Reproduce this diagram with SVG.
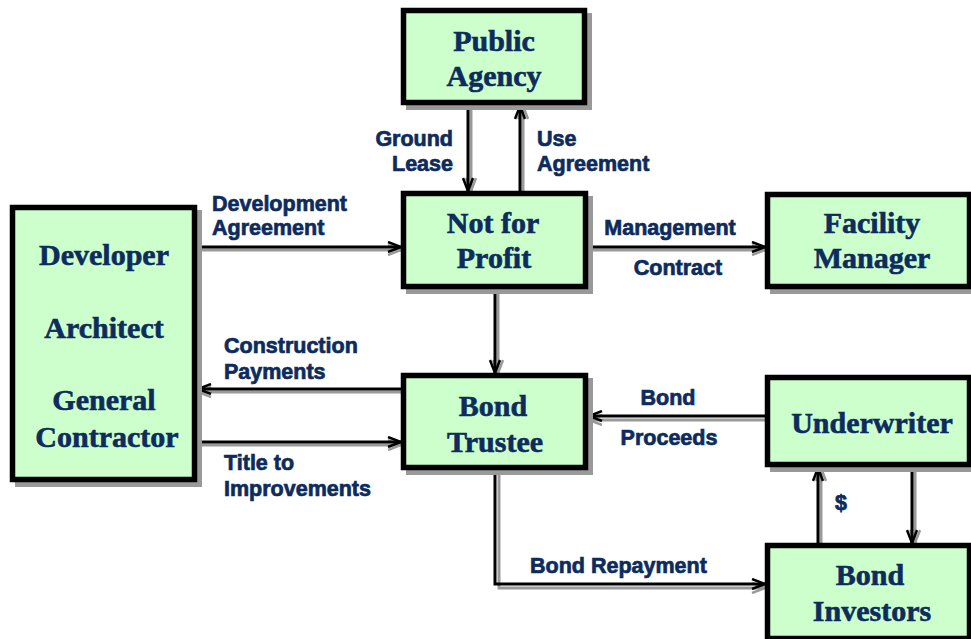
<svg xmlns="http://www.w3.org/2000/svg" width="971" height="639" viewBox="0 0 971 639">
  <style>
    .shadow { fill: #999; stroke: #999; stroke-width: 5; }
    .box { fill: #ccffcc; stroke: #000; stroke-width: 5.5; }
    .title { font-family: "Liberation Serif", "Times New Roman", serif; font-weight: bold; font-size: 30px; fill: #0d2b5c; stroke: #0d2b5c; stroke-width: 0.6; text-anchor: middle; }
    .lbl { font-family: "Liberation Sans", Arial, sans-serif; font-weight: bold; font-size: 21.5px; fill: #0d2b5c; stroke: #0d2b5c; stroke-width: 0.7; }
    .mid { text-anchor: middle; }
    .end { text-anchor: end; }
    .wire { fill: none; stroke: #000; stroke-width: 3; }
    .wire-sh { fill: none; stroke: #9a9a9a; stroke-width: 3; }
    .wire.arrow { marker-end: url(#ah); }
    .wire-sh.arrow { marker-end: url(#ah-sh); }
  </style>
  <defs>
    <marker id="ah" viewBox="0 0 16 12" refX="14" refY="6" markerWidth="16" markerHeight="12" markerUnits="userSpaceOnUse" orient="auto">
      <path d="M1,1 L14,6 L1,11" fill="none" stroke="#000" stroke-width="2.5"/>
    </marker>
    <marker id="ah-sh" viewBox="0 0 16 12" refX="14" refY="6" markerWidth="16" markerHeight="12" markerUnits="userSpaceOnUse" orient="auto">
      <path d="M1,1 L14,6 L1,11" fill="none" stroke="#9a9a9a" stroke-width="2.5"/>
    </marker>
  </defs>
  <rect width="971" height="639" fill="#fff"/>

  <!-- connectors: grey offset shadow under each black line -->
  <g id="connectors">
    <!-- Ground Lease -->
    <line class="wire-sh arrow" x1="471" y1="106" x2="471" y2="191"/>
    <line class="wire arrow" x1="468" y1="106" x2="468" y2="191"/>
    <!-- Use Agreement -->
    <line class="wire-sh arrow" x1="523" y1="191" x2="523" y2="106"/>
    <line class="wire arrow" x1="520" y1="191" x2="520" y2="106"/>
    <!-- Development Agreement -->
    <line class="wire-sh arrow" x1="198" y1="250" x2="401" y2="250"/>
    <line class="wire arrow" x1="198" y1="247" x2="401" y2="247"/>
    <!-- Management Contract -->
    <line class="wire-sh arrow" x1="589" y1="250" x2="765" y2="250"/>
    <line class="wire arrow" x1="589" y1="247" x2="765" y2="247"/>
    <!-- Not for Profit to Bond Trustee -->
    <line class="wire-sh arrow" x1="498" y1="290" x2="498" y2="373"/>
    <line class="wire arrow" x1="495" y1="290" x2="495" y2="373"/>
    <!-- Construction Payments -->
    <line class="wire-sh arrow" x1="401" y1="392" x2="198" y2="392"/>
    <line class="wire arrow" x1="401" y1="389" x2="198" y2="389"/>
    <!-- Title to Improvements -->
    <line class="wire-sh arrow" x1="198" y1="445" x2="401" y2="445"/>
    <line class="wire arrow" x1="198" y1="442" x2="401" y2="442"/>
    <!-- Bond Proceeds -->
    <line class="wire-sh arrow" x1="765" y1="420" x2="589" y2="420"/>
    <line class="wire arrow" x1="765" y1="416" x2="589" y2="416"/>
    <!-- Underwriter to Bond Investors -->
    <line class="wire-sh arrow" x1="915" y1="468" x2="915" y2="543"/>
    <line class="wire arrow" x1="912" y1="468" x2="912" y2="543"/>
    <!-- $ -->
    <line class="wire-sh arrow" x1="821" y1="543" x2="821" y2="468"/>
    <line class="wire arrow" x1="818" y1="543" x2="818" y2="468"/>
    <!-- Bond Repayment -->
    <polyline class="wire-sh arrow" points="499,471 499,588 765,588"/>
    <polyline class="wire arrow" points="495,471 495,584 765,584"/>
  </g>

  <!-- connector labels -->
  <g id="labels">
    <text class="lbl end" x="453" y="146">Ground</text>
    <text class="lbl end" x="453" y="171">Lease</text>
    <text class="lbl" x="537" y="146">Use</text>
    <text class="lbl" x="537" y="171">Agreement</text>
    <text class="lbl" x="212" y="211">Development</text>
    <text class="lbl" x="212" y="235">Agreement</text>
    <text class="lbl mid" x="670" y="235">Management</text>
    <text class="lbl mid" x="678" y="275">Contract</text>
    <text class="lbl" x="224" y="353">Construction</text>
    <text class="lbl" x="224" y="379">Payments</text>
    <text class="lbl" x="224" y="470">Title to</text>
    <text class="lbl" x="224" y="496">Improvements</text>
    <text class="lbl mid" x="668" y="405">Bond</text>
    <text class="lbl mid" x="669" y="445">Proceeds</text>
    <text class="lbl" x="835" y="510">$</text>
    <text class="lbl" x="530" y="573">Bond Repayment</text>
  </g>

  <g id="public-agency">
    <rect class="shadow" x="408.5" y="15.5" width="181" height="92"/>
    <rect class="box" x="403.5" y="10.5" width="181" height="92"/>
    <text class="title" x="494" y="51">Public</text>
    <text class="title" x="494" y="86">Agency</text>
  </g>

  <g id="not-for-profit">
    <rect class="shadow" x="408.5" y="198.5" width="182" height="93"/>
    <rect class="box" x="403.5" y="193.5" width="182" height="93"/>
    <text class="title" x="493" y="233">Not for</text>
    <text class="title" x="494" y="268">Profit</text>
  </g>

  <g id="facility-manager">
    <rect class="shadow" x="772.5" y="199.5" width="202" height="92"/>
    <rect class="box" x="767.5" y="194.5" width="202" height="92"/>
    <text class="title" x="872" y="233">Facility</text>
    <text class="title" x="872" y="268">Manager</text>
  </g>

  <g id="developer">
    <rect class="shadow" x="17.5" y="212.5" width="182" height="272"/>
    <rect class="box" x="12.5" y="207.5" width="182" height="272"/>
    <text class="title" x="104" y="265">Developer</text>
    <text class="title" x="104" y="338">Architect</text>
    <text class="title" x="104" y="410">General</text>
    <text class="title" x="107" y="447">Contractor</text>
  </g>

  <g id="bond-trustee">
    <rect class="shadow" x="408.5" y="380.5" width="182" height="92"/>
    <rect class="box" x="403.5" y="375.5" width="182" height="92"/>
    <text class="title" x="493" y="416">Bond</text>
    <text class="title" x="495" y="452">Trustee</text>
  </g>

  <g id="underwriter">
    <rect class="shadow" x="772.5" y="382.5" width="202" height="87"/>
    <rect class="box" x="767.5" y="377.5" width="202" height="87"/>
    <text class="title" x="872" y="433">Underwriter</text>
  </g>

  <g id="bond-investors">
    <rect class="shadow" x="772.5" y="550.5" width="202" height="93"/>
    <rect class="box" x="767.5" y="545.5" width="202" height="93"/>
    <text class="title" x="870" y="585">Bond</text>
    <text class="title" x="872" y="621">Investors</text>
  </g>
</svg>
